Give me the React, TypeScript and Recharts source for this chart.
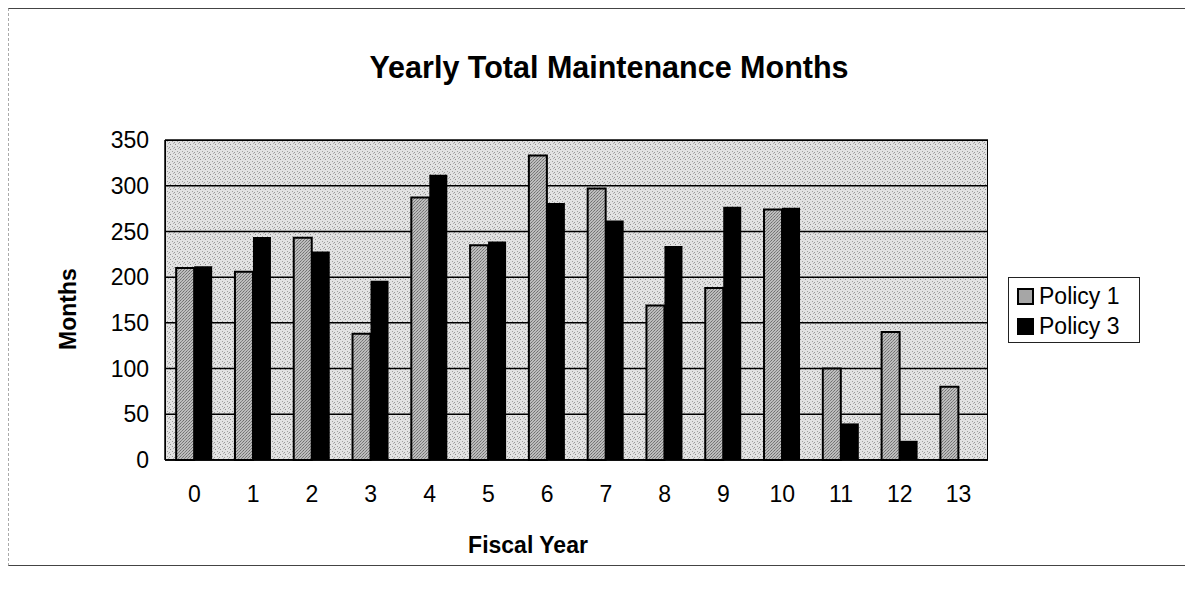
import { BarChart, Bar, XAxis, YAxis, CartesianGrid } from 'recharts';

const years = ['0', '1', '2', '3', '4', '5', '6', '7', '8', '9', '10', '11', '12', '13'];
const policy1 = [210, 206, 243, 138, 287, 235, 333, 297, 169, 188, 274, 100, 140, 80];
const policy3 = [212, 244, 228, 196, 312, 239, 281, 262, 234, 277, 276, 40, 21, 0];
const yTicks = [0, 50, 100, 150, 200, 250, 300, 350];

const data = years.map((y, i) => ({ year: y, p1: policy1[i], p3: policy3[i] }));

const FONT = 'Arial, "Liberation Sans", sans-serif';

function LegendBox() {
  const item = (label: string, swatch: React.ReactNode) => (
    <div style={{ display: 'flex', alignItems: 'center', height: 30 }}>
      {swatch}
      <span style={{ marginLeft: 5 }}>{label}</span>
    </div>
  );
  return (
    <div style={{
      position: 'absolute', left: 999, top: 268, width: 132, height: 66,
      border: '1px solid #222', background: '#fff', fontFamily: FONT, fontSize: 23,
      color: '#000', padding: '3px 0 0 8px', boxSizing: 'border-box',
    }}>
      {item('Policy 1', <span style={{ width: 13, height: 13, border: '2px solid #000', background: '#a6a6a6', display: 'inline-block' }} />)}
      {item('Policy 3', <span style={{ width: 17, height: 17, background: '#000', display: 'inline-block' }} />)}
    </div>
  );
}

export default function App() {
  return (
    <div style={{
      position: 'relative', width: 1180, height: 556, background: '#fff',
      borderTop: '1px solid #444', borderBottom: '1px solid #444',
      borderLeft: '1px dashed #aaa', borderRight: '1px dashed #aaa', fontFamily: FONT,
    }}>
      <div style={{ position: 'absolute', left: 0, width: 1200, top: 41, textAlign: 'center', fontSize: 30.5, fontWeight: 'bold' }}>
        Yearly Total Maintenance Months
      </div>
      <BarChart width={1180} height={556} data={data} barCategoryGap="19%" barGap={0}
        margin={{ top: 131, right: 201, bottom: 45, left: 96 }}>
        <defs>
          <pattern id="plotPat" width="5" height="5" patternUnits="userSpaceOnUse">
            <rect width="5" height="5" fill="#e2e2e2" />
            <rect x="1" y="0" width="1" height="1" fill="#8e8e8e" />
            <rect x="3" y="2" width="1" height="1" fill="#a0a0a0" />
            <rect x="0" y="3" width="1" height="1" fill="#9a9a9a" />
            <rect x="4" y="4" width="1" height="1" fill="#b0b0b0" />
          </pattern>
          <pattern id="barPat" width="3" height="3" patternUnits="userSpaceOnUse">
            <rect width="3" height="3" fill="#bdbdbd" />
            <rect x="0" y="0" width="1" height="1" fill="#6e6e6e" />
            <rect x="2" y="1" width="1" height="1" fill="#7a7a7a" />
            <rect x="1" y="2" width="1" height="1" fill="#858585" />
          </pattern>
        </defs>
        <CartesianGrid vertical={false} stroke="#000" strokeWidth={1.5} fill="url(#plotPat)" fillOpacity={1} />
        <XAxis dataKey="year" tickLine={false} axisLine={{ stroke: '#000', strokeWidth: 1.5 }}
          tick={{ fontSize: 23, fill: '#000', fontFamily: FONT }} tickMargin={20} height={60} />
        <YAxis domain={[0, 350]} ticks={yTicks} tickLine={false} axisLine={{ stroke: '#000', strokeWidth: 1.5 }}
          tick={{ fontSize: 23, fill: '#000', fontFamily: FONT }} tickMargin={10} width={60} interval={0} />
        <Bar dataKey="p1" name="Policy 1" fill="url(#barPat)" stroke="#000" strokeWidth={2} isAnimationActive={false} />
        <Bar dataKey="p3" name="Policy 3" fill="#000" isAnimationActive={false} />
      </BarChart>
      {/* plot frame */}
      <div style={{ position: 'absolute', left: 156, top: 131, width: 823, height: 320, border: '1.5px solid #000', boxSizing: 'border-box', pointerEvents: 'none' }} />
      <div style={{
        position: 'absolute', left: 59, top: 300, transform: 'translate(-50%, -50%) rotate(-90deg)',
        fontSize: 23, fontWeight: 'bold', whiteSpace: 'nowrap',
      }}>Months</div>
      <div style={{ position: 'absolute', left: 519, top: 536, transform: 'translate(-50%, -50%)', fontSize: 23, fontWeight: 'bold', whiteSpace: 'nowrap' }}>
        Fiscal Year
      </div>
      <LegendBox />
    </div>
  );
}
